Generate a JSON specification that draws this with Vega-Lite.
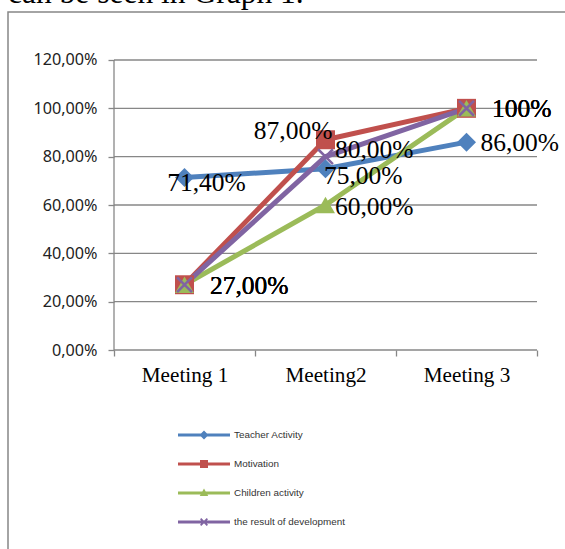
{
  "$schema": "https://vega.github.io/schema/vega-lite/v6.json",
  "width": 562,
  "height": 545,
  "autosize": {"type": "none"},
  "padding": {"left": 8, "top": 12, "right": 0, "bottom": 0},
  "background": "white",
  "title": {
    "text": "can be seen in Graph 1.",
    "anchor": "start",
    "frame": "group",
    "orient": "top",
    "offset": -22,
    "baseline": "alphabetic",
    "font": "Liberation Serif",
    "fontSize": 31.5,
    "fontWeight": "normal",
    "color": "#000000"
  },
  "config": {"view": {"stroke": "#878787", "strokeWidth": 1.5}, "title": {"fontWeight": "normal"}},
  "datasets": {
    "scores": [
      {"series": "Teacher Activity", "meeting": "Meeting 1", "m": 1, "value": 71.4, "label": "71,40%"},
      {"series": "Teacher Activity", "meeting": "Meeting2", "m": 2, "value": 75, "label": "75,00%"},
      {"series": "Teacher Activity", "meeting": "Meeting 3", "m": 3, "value": 86, "label": "86,00%"},
      {"series": "Motivation", "meeting": "Meeting 1", "m": 1, "value": 27, "label": "27,00%"},
      {"series": "Motivation", "meeting": "Meeting2", "m": 2, "value": 87, "label": "87,00%"},
      {"series": "Motivation", "meeting": "Meeting 3", "m": 3, "value": 100, "label": "100%"},
      {"series": "Children activity", "meeting": "Meeting 1", "m": 1, "value": 27, "label": "27,00%"},
      {"series": "Children activity", "meeting": "Meeting2", "m": 2, "value": 60, "label": "60,00%"},
      {"series": "Children activity", "meeting": "Meeting 3", "m": 3, "value": 100, "label": "100%"},
      {"series": "the result of development", "meeting": "Meeting 1", "m": 1, "value": 27, "label": "27,00%"},
      {"series": "the result of development", "meeting": "Meeting2", "m": 2, "value": 80, "label": "80,00%"},
      {"series": "the result of development", "meeting": "Meeting 3", "m": 3, "value": 100, "label": "100%"}
    ],
    "grid": [{"v": 0}, {"v": 20}, {"v": 40}, {"v": 60}, {"v": 80}, {"v": 100}, {"v": 120}],
    "yaxis": [{"from": 0, "to": 120}]
  },
  "data": {"name": "scores"},
  "layer": [
    {
      "data": {"name": "grid"},
      "mark": {"type": "rule", "color": "#878787", "strokeWidth": 1.3},
      "encoding": {
        "y": {
          "field": "v", "type": "quantitative",
          "scale": {"domain": [-85.655, 139.862], "nice": false, "zero": false},
          "axis": {
            "values": [0, 20, 40, 60, 80, 100, 120],
            "offset": -106,
            "domain": false, "grid": false,
            "tickSize": 6, "tickColor": "#878787", "tickWidth": 1.3,
            "labelPadding": 11,
            "labelExpr": "replace(format(datum.value, '.2f'), '.', ',') + '%'",
            "labelFont": "Noto Sans", "labelFontSize": 16.2, "labelColor": "#222222",
            "title": null
          }
        },
        "x": {
          "datum": 0.5, "type": "quantitative",
          "scale": {"domain": [-0.25177, 3.73405], "nice": false, "zero": false},
          "axis": {
            "values": [0.5, 1.5, 2.5, 3.5],
            "offset": -207,
            "domain": false, "grid": false,
            "tickSize": 6, "tickColor": "#878787", "tickWidth": 1.3,
            "labelOffset": 70.5, "labelPadding": 8,
            "labelExpr": "datum.value == 0.5 ? 'Meeting 1' : datum.value == 1.5 ? 'Meeting2' : datum.value == 2.5 ? 'Meeting 3' : ''",
            "labelFont": "Liberation Serif", "labelFontSize": 21.2, "labelColor": "#000000",
            "labelOverlap": false, "labelBound": false, "labelFlush": false,
            "title": null
          }
        },
        "x2": {"datum": 3.5}
      }
    },
    {
      "data": {"name": "yaxis"},
      "mark": {"type": "rule", "color": "#878787", "strokeWidth": 1.3},
      "encoding": {
        "x": {"datum": 0.5, "type": "quantitative"},
        "y": {"field": "from", "type": "quantitative"},
        "y2": {"field": "to"}
      }
    },
    {
      "mark": {"type": "line", "strokeWidth": 5, "strokeJoin": "round", "strokeCap": "round"},
      "encoding": {
        "x": {"field": "m", "type": "quantitative"},
        "y": {"field": "value", "type": "quantitative"},
        "color": {
          "field": "series", "type": "nominal",
          "scale": {
            "domain": ["Teacher Activity", "Motivation", "Children activity", "the result of development"],
            "range": ["#4F81BD", "#C0504D", "#9BBB59", "#8064A2"]
          },
          "legend": {
            "orient": "none", "legendX": 191, "legendY": 418,
            "title": null, "direction": "vertical", "padding": 0,
            "rowPadding": 19, "labelOffset": 25,
            "labelFont": "Liberation Sans", "labelFontSize": 9.9, "labelColor": "#333333",
            "symbolSize": 100, "symbolStrokeWidth": 0,
            "encode": {
              "symbols": {
                "update": {
                  "shape": {"signal": "datum.value === 'Teacher Activity' ? 'M-5.2,-0.3H5.2V0.3H-5.2Z M0,-0.9L0.9,0L0,0.9L-0.9,0Z' : datum.value === 'Motivation' ? 'M-5.2,-0.3H5.2V0.3H-5.2Z M-0.8,-0.8H0.8V0.8H-0.8Z' : datum.value === 'Children activity' ? 'M-5.2,-0.3H5.2V0.3H-5.2Z M0,-0.9L0.85,0.6H-0.85Z' : 'M-5.2,-0.3H5.2V0.3H-5.2Z M-0.8,-0.55L-0.55,-0.8L0,-0.25L0.55,-0.8L0.8,-0.55L0.25,0L0.8,0.55L0.55,0.8L0,0.25L-0.55,0.8L-0.8,0.55L-0.25,0Z'"},
                  "fill": {"signal": "scale('color', datum.value)"},
                  "stroke": {"value": "transparent"},
                  "strokeWidth": {"value": 0},
                  "size": {"value": 100},
                  "opacity": {"value": 1}
                }
              }
            }
          }
        }
      }
    },
    {
      "transform": [{"filter": "datum.series !== 'the result of development'"}],
      "mark": {"type": "point", "filled": true, "opacity": 1, "size": 360},
      "encoding": {
        "x": {"field": "m", "type": "quantitative"},
        "y": {"field": "value", "type": "quantitative"},
        "color": {"field": "series", "type": "nominal"},
        "shape": {
          "field": "series", "type": "nominal",
          "scale": {"domain": ["Teacher Activity", "Motivation", "Children activity"], "range": ["diamond", "square", "triangle-up"]},
          "legend": null
        }
      }
    },
    {
      "transform": [{"filter": "datum.series === 'the result of development'"}],
      "mark": {"type": "point", "filled": false, "opacity": 1, "size": 220, "strokeWidth": 2.5, "shape": "M-1,-1L1,1M1,-1L-1,1"},
      "encoding": {
        "x": {"field": "m", "type": "quantitative"},
        "y": {"field": "value", "type": "quantitative"},
        "color": {"field": "series", "type": "nominal"}
      }
    },
    {
      "transform": [{"filter": "datum.label === '27,00%' || datum.label === '100%'"}],
      "mark": {"type": "text", "align": "left", "baseline": "middle", "dx": 25.5, "dy": 1, "font": "Liberation Serif", "fontSize": 25.5, "color": "#000000"},
      "encoding": {
        "x": {"field": "m", "type": "quantitative"},
        "y": {"field": "value", "type": "quantitative"},
        "text": {"field": "label"}
      }
    },
    {
      "transform": [{"filter": "datum.label === '86,00%'"}],
      "mark": {"type": "text", "align": "left", "baseline": "middle", "dx": 14, "dy": 1, "font": "Liberation Serif", "fontSize": 25.5, "color": "#000000"},
      "encoding": {
        "x": {"field": "m", "type": "quantitative"},
        "y": {"field": "value", "type": "quantitative"},
        "text": {"field": "label"}
      }
    },
    {
      "transform": [{"filter": "datum.label === '60,00%'"}],
      "mark": {"type": "text", "align": "left", "baseline": "middle", "dx": 9.5, "dy": 2, "font": "Liberation Serif", "fontSize": 25.5, "color": "#000000"},
      "encoding": {
        "x": {"field": "m", "type": "quantitative"},
        "y": {"field": "value", "type": "quantitative"},
        "text": {"field": "label"}
      }
    },
    {
      "transform": [{"filter": "datum.label === '80,00%'"}],
      "mark": {"type": "text", "align": "left", "baseline": "middle", "dx": 9.5, "dy": -7, "font": "Liberation Serif", "fontSize": 25.5, "color": "#000000"},
      "encoding": {
        "x": {"field": "m", "type": "quantitative"},
        "y": {"field": "value", "type": "quantitative"},
        "text": {"field": "label"}
      }
    },
    {
      "transform": [{"filter": "datum.label === '71,40%'"}],
      "mark": {"type": "text", "align": "center", "baseline": "middle", "dx": 22, "dy": 6, "font": "Liberation Serif", "fontSize": 25.5, "color": "#000000"},
      "encoding": {
        "x": {"field": "m", "type": "quantitative"},
        "y": {"field": "value", "type": "quantitative"},
        "text": {"field": "label"}
      }
    },
    {
      "transform": [{"filter": "datum.label === '75,00%'"}],
      "mark": {"type": "text", "align": "left", "baseline": "middle", "dx": -1.5, "dy": 7, "font": "Liberation Serif", "fontSize": 25.5, "color": "#000000"},
      "encoding": {
        "x": {"field": "m", "type": "quantitative"},
        "y": {"field": "value", "type": "quantitative"},
        "text": {"field": "label"}
      }
    },
    {
      "transform": [{"filter": "datum.label === '87,00%'"}],
      "mark": {"type": "text", "align": "right", "baseline": "middle", "dx": 7, "dy": -9, "font": "Liberation Serif", "fontSize": 25.5, "color": "#000000"},
      "encoding": {
        "x": {"field": "m", "type": "quantitative"},
        "y": {"field": "value", "type": "quantitative"},
        "text": {"field": "label"}
      }
    }
  ]
}
